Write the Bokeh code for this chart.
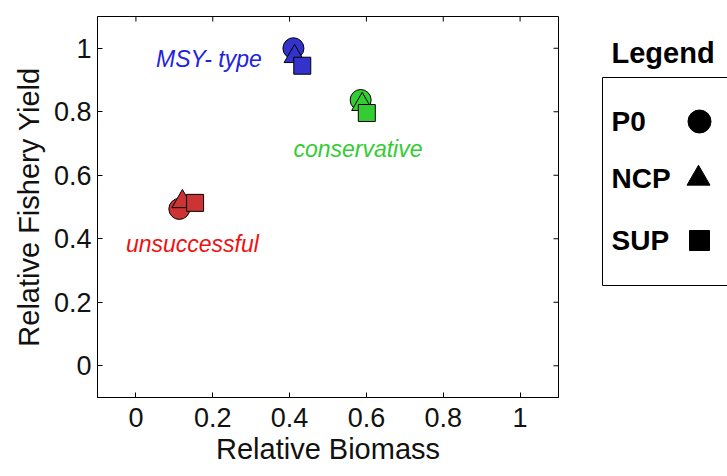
import math
from bokeh.plotting import figure
from bokeh.layouts import row
from bokeh.models import Range1d, Label, FixedTicker
from bokeh.embed import file_html
from bokeh.resources import INLINE
from bokeh.core.properties import value

# Data (relative biomass, relative fishery yield) per scenario: MSY-type, conservative, unsuccessful
groups = ["MSY- type", "conservative", "unsuccessful"]
fill_colors = ["#3333CC", "#33CC33", "#CC3333"]
text_colors = ["#2222DD", "#33CC33", "#EE1111"]
x_p0 = [0.41, 0.585, 0.113]
y_p0 = [1.0, 0.837, 0.494]
x_ncp = [0.413, 0.589, 0.121]
y_ncp = [0.974, 0.823, 0.517]
x_sup = [0.433, 0.601, 0.154]
y_sup = [0.945, 0.796, 0.513]
ticks = [0, 0.2, 0.4, 0.6, 0.8, 1]
legend_names = ["P0", "NCP", "SUP"]

FONT = "Liberation Sans"
XMIN, XMAX, YMIN, YMAX = -0.1, 1.1, -0.1, 1.1

p = figure(width=578, height=476, output_backend="svg", toolbar_location=None,
           x_range=Range1d(XMIN, XMAX), y_range=Range1d(YMIN, YMAX),
           frame_width=461, frame_height=381,
           min_border_left=97, min_border_right=20, min_border_top=16, min_border_bottom=79)
p.grid.visible = False
p.outline_line_color = "black"
p.background_fill_color = "white"
p.border_fill_color = "white"

for ax in (p.xaxis[0], p.yaxis[0]):
    ax.ticker = FixedTicker(ticks=ticks)
    ax.major_tick_in = 5
    ax.major_tick_out = 0
    ax.minor_tick_line_color = None
    ax.axis_line_color = "black"
    ax.major_label_text_font = FONT
    ax.major_label_text_font_size = "27px"
    ax.major_label_text_color = "#111111"
    ax.axis_label_text_font = FONT
    ax.axis_label_text_font_size = "29px"
    ax.axis_label_text_font_style = "normal"
    ax.axis_label_text_color = "#111111"
    ax.major_label_standoff = 6
    ax.axis_label_standoff = 6
p.xaxis[0].major_label_standoff = 10
p.xaxis[0].axis_label_standoff = 3
p.xaxis[0].axis_label = "Relative Biomass"
p.yaxis[0].axis_label = "Relative Fishery Yield"
p.yaxis[0].major_label_orientation = "horizontal"

# inward ticks on the top and right edges of the box
p.scatter(ticks, [YMAX] * len(ticks), marker="dash", angle=math.pi / 2, size=10, line_color="black")
p.scatter([XMAX] * len(ticks), ticks, marker="dash", size=10, line_color="black")

p.scatter(x_p0, y_p0, marker="circle", size=21, fill_color=fill_colors, line_color="black", line_width=1)
p.scatter(x_ncp, y_ncp, marker="triangle", size=21, fill_color=fill_colors, line_color="black", line_width=1)
p.scatter(x_sup, y_sup, marker="square", size=17, fill_color=fill_colors, line_color="black", line_width=1)

label_pos = [(0.19, 0.967), (0.578, 0.683), (0.147, 0.383)]
for name, col, (lx, ly) in zip(groups, text_colors, label_pos):
    p.add_layout(Label(x=lx, y=ly, text=name, text_color=col, text_font=FONT,
                       text_font_size="23px", text_font_style="italic",
                       text_align="center", text_baseline="middle"))

# Legend panel (coordinates in window pixels, relative to its left edge)
q = figure(width=149, height=476, output_backend="svg", toolbar_location=None,
           x_range=Range1d(0, 149), y_range=Range1d(397, 16),
           frame_width=149, frame_height=381,
           min_border_left=0, min_border_right=0, min_border_top=16, min_border_bottom=79,
           x_axis_location=None, y_axis_location=None)
q.grid.visible = False
q.outline_line_color = None
q.border_fill_color = "white"
q.quad(left=24, right=200, top=77, bottom=285, fill_color=None, line_color="black", line_width=1)
q.text(x=[33], y=[52], text=["Legend"], text_font=value(FONT), text_font_size="29px",
       text_font_style="bold", text_baseline="middle", text_color="black")
ly = [121, 178, 240]
q.text(x=[33, 33, 33], y=ly, text=legend_names, text_font=value(FONT), text_font_size="28px",
       text_font_style="bold", text_baseline="middle", text_color="black")
q.scatter([121], [121], marker="circle", size=23, color="black")
q.scatter([120], [178], marker="triangle", size=23, color="black")
q.scatter([121], [240], marker="square", size=20, color="black")

layout = row(p, q, spacing=0)
open("out.html", "w").write(file_html(layout, INLINE))
